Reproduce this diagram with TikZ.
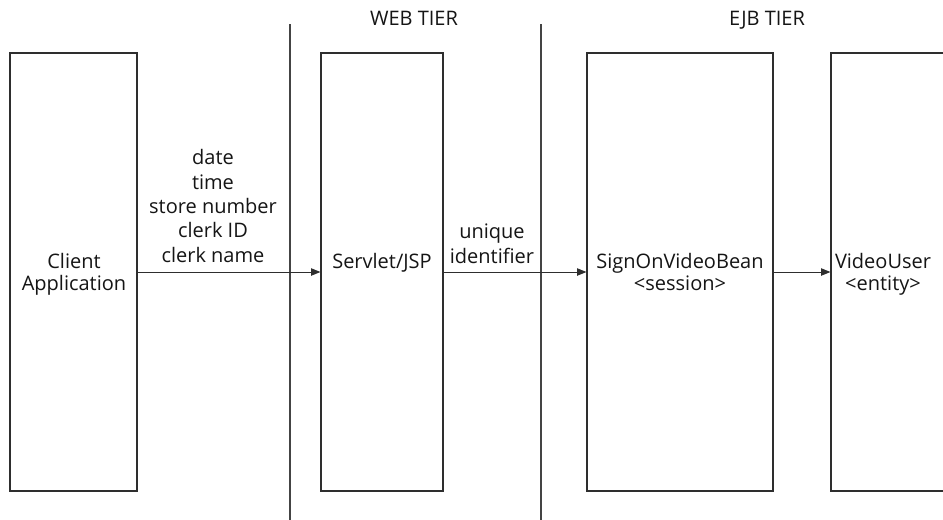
\documentclass[tikz,border=0pt]{standalone}
\usepackage{fontspec}
\setmainfont{Open Sans}
\usetikzlibrary{fit,arrows.meta}
\definecolor{linecol}{HTML}{2E2E2E}
\definecolor{tiercol}{HTML}{444444}
\definecolor{txtcol}{HTML}{151515}
\tikzset{
  box/.style={draw=linecol, line width=0.85pt, inner sep=0pt, fill=none},
  tierline/.style={draw=tiercol, line width=0.8pt},
  flow/.style={draw=linecol, line width=0.75pt, -{Triangle[length=7pt,width=5.5pt]}},
  lbl/.style={text=txtcol, font=\fontsize{15pt}{18.2pt}\selectfont, inner sep=0pt, anchor=base, align=center},
}
\begin{document}
\begin{tikzpicture}[x=0.75pt,y=-0.75pt]
\path[use as bounding box, clip] (0,0) rectangle (943,519);
\fill[white] (0,0) rectangle (943,519);
% tier separators
\coordinate (t1top) at (290,24);
\coordinate (t1bot) at (290,530);
\coordinate (t2top) at (541,24);
\coordinate (t2bot) at (541,530);
\draw[tierline] (t1top) -- (t1bot);
\draw[tierline] (t2top) -- (t2bot);
\node[lbl] (web) at (414,25) {WEB TIER};
\node[lbl] (ejb) at (767,25) {EJB TIER};
% boxes
\node[box, fit={(10,53) (137,491)}] (b1) {};
\node[box, fit={(321,53) (443,491)}] (b2) {};
\node[box, fit={(587,53) (773,491)}] (b3) {};
\node[box, fit={(831,53) (1000,491)}] (b4) {};
% box texts (anchor base = last line baseline)
\node[lbl] (t1) at (74,290) {Client\\[-1.7pt]Application};
\node[lbl] (t2) at (382,268) {Servlet/JSP};
\node[lbl] (t3) at (680,290) {SignOnVideoBean\\[-1.7pt]{<}session{>}};
\node[lbl] (t4) at (883,290) {VideoUser\\[-1.7pt]{<}entity{>}};
% connectors
\draw[flow] (b1.east) -- (b2.west);
\draw[flow] (b2.east) -- (b3.west);
\draw[flow] (b3.east) -- (b4.west);
% connector labels
\node[lbl] (d1) at (213,262) {date\\time\\store number\\clerk ID\\clerk name};
\node[lbl] (d2) at (492,263) {unique\\[0.5pt]identifier};
\end{tikzpicture}
\end{document}
